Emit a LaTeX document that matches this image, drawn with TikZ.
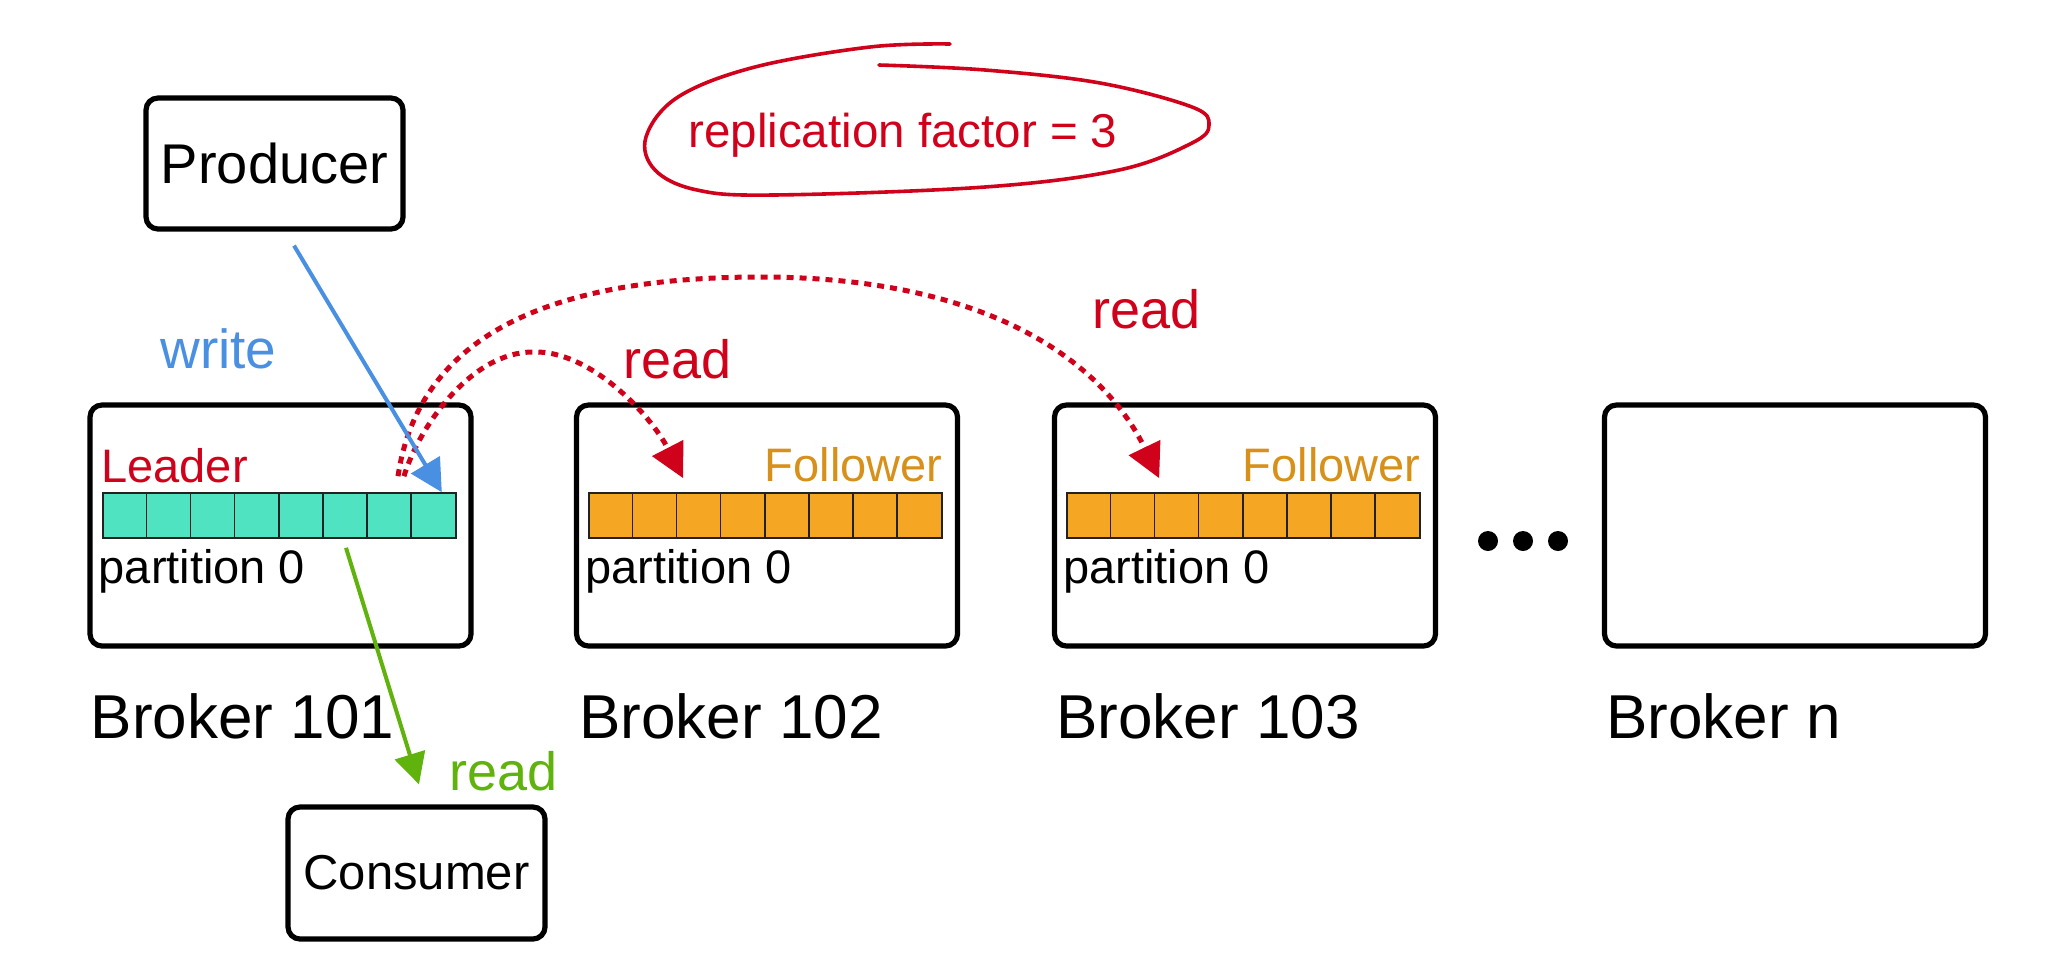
\documentclass[tikz,border=0pt]{standalone}
\usepackage{fontspec}
\setmainfont{Liberation Sans}
\usetikzlibrary{arrows.meta,calc}
\definecolor{kred}{HTML}{D0021B}
\definecolor{kblue}{HTML}{4A90E2}
\definecolor{kgreen}{RGB}{96,178,12}
\definecolor{kteal}{HTML}{50E3C2}
\definecolor{korange}{HTML}{F5A623}
\definecolor{kfoll}{RGB}{215,144,26}
\definecolor{kcell}{HTML}{222222}
\begin{document}
\begin{tikzpicture}[x=0.5pt,y=-0.5pt]
\useasboundingbox (0,0) rectangle (2060,964);
\tikzset{
  box/.style={draw=black, line width=2.6pt, rounded corners=6pt, inner sep=0pt},
  smallbox/.style={box, minimum width=128.5pt, minimum height=65.5pt},
  brokerbox/.style={box, minimum width=190.5pt, minimum height=120.5pt},
  bar/.style={draw=kcell, line width=0.8pt, inner sep=0pt, minimum width=176.5pt, minimum height=22.5pt},
  lbl/.style={inner sep=0pt, anchor=base west},
  fbig/.style={font={\fontsize{31pt}{33pt}\selectfont}},
  fmid/.style={font={\fontsize{27pt}{29pt}\selectfont}},
  fsmall/.style={font={\fontsize{23.5pt}{25pt}\selectfont}},
  bluearr/.style={draw=kblue, line width=2pt, -{Triangle[length=16pt,width=16.5pt]}},
  greenarr/.style={draw=kgreen, line width=2pt, -{Triangle[length=15.5pt,width=15.5pt]}},
  reddot/.style={draw=kred, line width=2.5pt, dash pattern=on 3.5pt off 3pt, -{Triangle[length=17pt,width=17pt]}},
}
% producer / consumer
\node[smallbox, font={\fontsize{28pt}{30pt}\selectfont}] (prod) at (274.5,163.5) {Producer};
\node[smallbox, font={\fontsize{24.5pt}{26pt}\selectfont}, minimum height=66pt] (cons) at (416.5,873) {Consumer};
% brokers
\node[brokerbox] (b1) at (280.5,525.5) {};
\node[brokerbox] (b2) at (767,525.5) {};
\node[brokerbox] (b3) at (1245,525.5) {};
\node[brokerbox] (bn) at (1795,525.5) {};
% partition bars
\node[bar, fill=kteal] (bar1) at (279.5,515.5) {};
\node[bar, fill=korange] (bar2) at (765.5,515.5) {};
\node[bar, fill=korange] (bar3) at (1243.5,515.5) {};
\foreach \b in {bar1,bar2,bar3}{
  \foreach \i in {1,...,7}{
    \draw[kcell, line width=0.8pt] ($(\b.north west)+(\i*44.125,0)$) -- ($(\b.south west)+(\i*44.125,0)$);
  }
}
% labels inside brokers
\node[lbl, fsmall, text=kred] (lead) at (101,482) {Leader};
\node[inner sep=0pt, anchor=base east, fsmall, text=kfoll] (f2) at ($(bar2.north east)+(0,-11)$) {Follower};
\node[inner sep=0pt, anchor=base east, fsmall, text=kfoll] (f3) at ($(bar3.north east)+(0,-11)$) {Follower};
\node[lbl, fsmall] (p1) at ($(b1.south west)+(11,-65)$) {partition 0};
\node[lbl, fsmall] (p2) at ($(b2.south west)+(11,-65)$) {partition 0};
\node[lbl, fsmall] (p3) at ($(b3.south west)+(11,-65)$) {partition 0};
% broker names
\node[lbl, fbig] (n1) at ($(b1.south west)+(3,90)$) {Broker 101};
\node[lbl, fbig] (n2) at ($(b2.south west)+(5,90)$) {Broker 102};
\node[lbl, fbig] (n3) at ($(b3.south west)+(4,90)$) {Broker 103};
\node[lbl, fbig] (nn) at ($(bn.south west)+(4,90)$) {Broker n};
% dots
\foreach \x/\nm in {1488/d1,1523/d2,1558/d3}{
  \node[circle, fill=black, inner sep=0pt, minimum size=10pt] (\nm) at (\x,541) {};
}
% replication factor
\draw[kred, line width=1.8pt, line cap=round] plot[smooth, tension=0.6] coordinates {
  (950,44) (870,47) (755,67) (678,97) (646,137) (655,170) (697,190) (774,195)
  (985,187) (1119,170) (1192,143) (1209,125) (1192,107) (1100,83) (985,70) (879,65)};
\node[lbl, font={\fontsize{23.75pt}{25pt}\selectfont}, text=kred] (rf) at (688,147) {replication factor = 3};
% arrows
\coordinate (top1) at (756,277);
\coordinate (top2) at (533,352);
\draw[reddot] ($(bar1.north)+(118.5,-16)$) .. controls +(22,-147) and +(-196,1) .. (top1)
  .. controls +(244,-1) and +(-52,-108) .. ($(bar3.north west)+(93,-14)$);
\draw[reddot] ($(bar1.north)+(124.5,-16)$) .. controls +(14,-47) and +(-63,0) .. (top2)
  .. controls +(57,-2) and +(-33,-64) .. ($(bar2.north west)+(95,-14)$);
\draw[bluearr] ($(prod.south)+(19.5,14)$) -- ($(bar1.north east)+(-15,0)$);
\draw[greenarr] ($(bar1.south)+(66.5,9)$) -- ($(cons.north)+(2.5,-20)$);
% arrow labels
\node[lbl, font={\fontsize{27.5pt}{29pt}\selectfont}, text=kblue] (lw) at (160,368) {write};
\node[lbl, fmid, text=kred] (lr1) at (623,378) {read};
\node[lbl, fmid, text=kred] (lr2) at (1092,328) {read};
\node[lbl, fmid, text=kgreen] (lr3) at (449,790) {read};
\end{tikzpicture}
\end{document}
